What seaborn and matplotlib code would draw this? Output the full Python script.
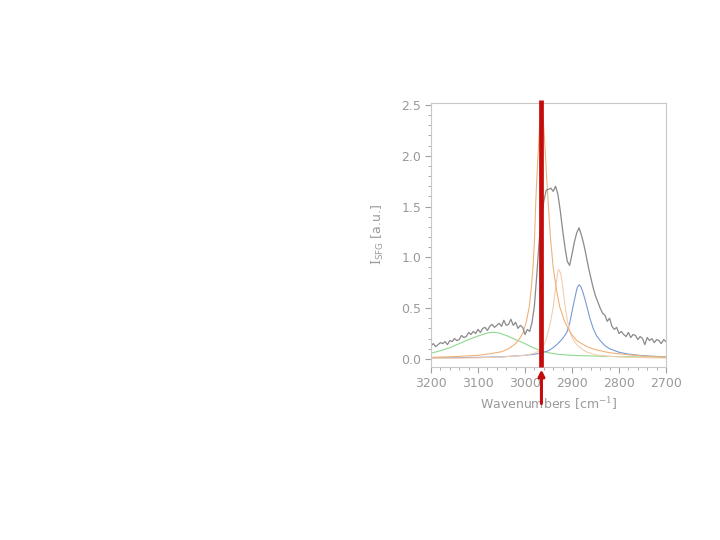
import numpy as np
import matplotlib
matplotlib.use("Agg")
import matplotlib.pyplot as plt
from matplotlib.ticker import MultipleLocator, FormatStrFormatter
import seaborn as sns

# measured SFG spectrum (every 5 cm-1, 3200 -> 2700)
wavenumbers = np.arange(3200, 2699, -5)
intensity = [
    0.13, 0.15, 0.12, 0.14, 0.16, 0.15, 0.17, 0.14, 0.18, 0.17,
    0.20, 0.18, 0.19, 0.23, 0.21, 0.22, 0.26, 0.24, 0.27, 0.25,
    0.29, 0.26, 0.30, 0.31, 0.28, 0.32, 0.34, 0.31, 0.33, 0.35,
    0.32, 0.38, 0.33, 0.34, 0.39, 0.33, 0.36, 0.30, 0.33, 0.31,
    0.24, 0.29, 0.27, 0.36, 0.52, 0.82, 1.15, 1.38, 1.55, 1.66,
    1.67, 1.68, 1.65, 1.70, 1.62, 1.46, 1.27, 1.10, 0.96, 0.92,
    1.03, 1.15, 1.24, 1.29, 1.22, 1.13, 1.02, 0.90, 0.80, 0.70,
    0.62, 0.56, 0.50, 0.45, 0.43, 0.37, 0.40, 0.32, 0.29, 0.31,
    0.25, 0.27, 0.24, 0.22, 0.26, 0.21, 0.24, 0.23, 0.19, 0.22,
    0.20, 0.14, 0.21, 0.18, 0.20, 0.16, 0.19, 0.18, 0.15, 0.19,
    0.17,
]

# fitted components
orange_x = [3200, 3150, 3100, 3075, 3050, 3035, 3020, 3010, 3004, 2997, 2991, 2987,
            2983, 2980, 2977, 2973, 2969, 2965, 2961, 2957, 2954, 2951, 2946, 2940,
            2933, 2926, 2915, 2904, 2890, 2868, 2850, 2820, 2780, 2740, 2700]
orange_y = [0.015, 0.022, 0.035, 0.05, 0.07, 0.1, 0.15, 0.21, 0.26, 0.37, 0.51, 0.68,
            0.9, 1.15, 1.56, 1.95, 2.28, 2.45, 2.35, 2.05, 1.8, 1.56, 1.2, 0.9,
            0.68, 0.51, 0.36, 0.26, 0.18, 0.12, 0.09, 0.06, 0.04, 0.025, 0.018]

peach_x = [3200, 3100, 3050, 3000, 2980, 2970, 2960, 2955, 2950, 2945, 2940, 2935, 2930,
           2928, 2924, 2920, 2915, 2910, 2905, 2900, 2890, 2880, 2870, 2850, 2820, 2780, 2700]
peach_y = [0.005, 0.01, 0.018, 0.035, 0.055, 0.08, 0.13, 0.19, 0.28, 0.38, 0.51, 0.7, 0.86,
           0.88, 0.84, 0.72, 0.53, 0.38, 0.28, 0.21, 0.14, 0.1, 0.07, 0.04, 0.025, 0.015, 0.008]

blue_x = [3200, 3100, 3050, 3000, 2980, 2960, 2950, 2940, 2930, 2920, 2911, 2905, 2898,
          2893, 2889, 2885, 2881, 2877, 2872, 2868, 2862, 2855, 2848, 2840, 2830, 2820,
          2800, 2780, 2760, 2740, 2720, 2700]
blue_y = [0.008, 0.015, 0.02, 0.035, 0.045, 0.065, 0.08, 0.11, 0.15, 0.2, 0.26, 0.35, 0.51,
          0.62, 0.7, 0.73, 0.71, 0.66, 0.58, 0.51, 0.4, 0.3, 0.23, 0.18, 0.13, 0.1,
          0.065, 0.047, 0.036, 0.029, 0.024, 0.02]

green_x = [3200, 3180, 3160, 3140, 3120, 3100, 3080, 3068, 3055, 3040, 3020, 3000, 2985,
           2970, 2950, 2930, 2900, 2870, 2840, 2800, 2750, 2700]
green_y = [0.055, 0.08, 0.11, 0.15, 0.19, 0.225, 0.255, 0.262, 0.255, 0.23, 0.19, 0.15, 0.115,
           0.085, 0.06, 0.045, 0.035, 0.03, 0.026, 0.022, 0.018, 0.015]

marker_pos = 2965

sns.set_style("white")
plt.rcParams['font.family'] = ['DejaVu Sans']
plt.rcParams['mathtext.fontset'] = 'custom'
plt.rcParams['mathtext.rm'] = 'DejaVu Serif'
plt.rcParams['mathtext.sf'] = 'DejaVu Sans'
txt = "#9a9a9a"

fig = plt.figure(figsize=(7.2, 5.4), dpi=100)
ax = fig.add_axes([0.5986, 0.3204, 0.3264, 0.4889])

sns.lineplot(x=green_x, y=green_y, ax=ax, color="#8fd88f", linewidth=0.8)
sns.lineplot(x=blue_x, y=blue_y, ax=ax, color="#7a9ad6", linewidth=0.8)
sns.lineplot(x=peach_x, y=peach_y, ax=ax, color="#f2cfae", linewidth=0.8)
sns.lineplot(x=orange_x, y=orange_y, ax=ax, color="#f0b27a", linewidth=0.8)
sns.lineplot(x=wavenumbers, y=intensity, ax=ax, color="#8a8a8a", linewidth=0.9)

ax.set_xlim(3200, 2700)
ax.set_ylim(-0.08, 2.52)
ax.xaxis.set_major_locator(MultipleLocator(100))
ax.xaxis.set_minor_locator(MultipleLocator(20))
ax.yaxis.set_major_locator(MultipleLocator(0.5))
ax.yaxis.set_minor_locator(MultipleLocator(0.1))
ax.yaxis.set_major_formatter(FormatStrFormatter('%.1f'))

for s in ax.spines.values():
    s.set_color("#c8c8c8")
    s.set_linewidth(0.8)
ax.tick_params(axis='both', which='major', direction='out', length=4, width=0.8,
               color="#a0a0a0", labelcolor=txt, labelsize=9, pad=3)
ax.tick_params(axis='both', which='minor', direction='out', length=2, width=0.6, color="#a0a0a0")
ax.tick_params(which='both', left=True, bottom=True, top=False, right=False)

ax.set_xlabel(r"Wavenumbers [cm$^{-1}$]", color=txt, fontsize=9, labelpad=4)
ax.set_ylabel(r"$\mathrm{I}_{\mathsf{SFG}}$ [a.u.]", color=txt, fontsize=9, labelpad=11)

# red marker line with arrow
ax.plot([marker_pos, marker_pos], [2.55, -0.08], color="#c40c0c", linewidth=3.4,
        clip_on=False, solid_capstyle='butt', zorder=5)
ax.annotate("", xy=(marker_pos, -0.105), xytext=(marker_pos, -0.44),
            arrowprops=dict(arrowstyle='-|>', color="#c40c0c", lw=2.2, mutation_scale=9,
                            shrinkA=0, shrinkB=0),
            annotation_clip=False)

fig.savefig("out.png", dpi=100)
